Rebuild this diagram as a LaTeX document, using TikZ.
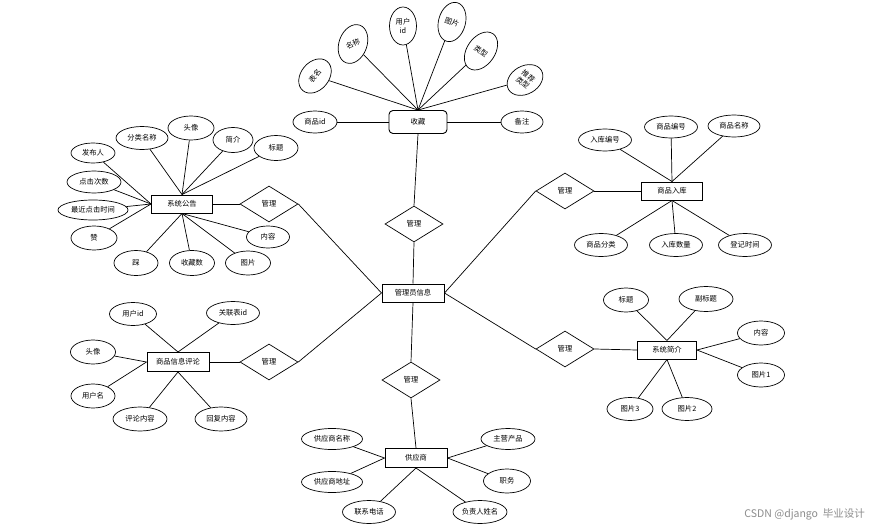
\documentclass[tikz,border=0pt]{standalone}
\usepackage{fontspec}
\newfontfamily\cjk{Noto Sans CJK SC}
\usetikzlibrary{shapes.geometric}
\tikzset{
  base/.style={font=\cjk\fontsize{7.3}{8.2}\selectfont, inner sep=0pt, align=center},
  ent/.style={base, draw, rectangle, line width=1pt, minimum width=61pt, minimum height=18pt},
  entr/.style={base, draw, rectangle, rounded corners=4pt, line width=0.9pt, minimum width=58pt, minimum height=23pt},
  attr/.style={base, draw, ellipse, line width=0.7pt, minimum width=45pt, minimum height=23pt},
  rel/.style={base, draw, diamond, line width=0.7pt, minimum width=58pt, minimum height=36pt},
  conn/.style={line width=0.7pt},
}
\begin{document}
\begin{tikzpicture}[x=1pt,y=-1pt]
\useasboundingbox (0,0) rectangle (871,530);
\fill[white] (0,0) rectangle (871,530);

% ---------- top: 收藏 ----------
\node[entr] (sc) at (418,122) {收藏};
\node[attr, minimum width=44pt, minimum height=22pt] (sc1) at (315,122) {商品id};
\node[attr, minimum width=42pt, minimum height=22pt] (sc2) at (522,122) {备注};
\node[attr, minimum width=38pt, minimum height=28pt, rotate=50] (sc3) at (315,76) {表名};
\node[attr, minimum width=40pt, minimum height=28pt, rotate=70] (sc4) at (353,44) {\rotatebox{-45}{名称}};
\node[attr, minimum width=27pt, minimum height=38pt] (sc5) at (403,26) {用户\\id};
\node[attr, minimum width=40pt, minimum height=27pt, rotate=75] (sc6) at (452,22) {\rotatebox{-95}{图片}};
\node[attr, minimum width=42pt, minimum height=28pt, rotate=55] (sc7) at (481,51) {\rotatebox{-90}{类型}};
\node[attr, minimum width=38pt, minimum height=28pt, rotate=30] (sc8) at (525,80) {\rotatebox{-70}{\begin{tabular}{@{}c@{}}推荐\\类型\end{tabular}}};
\draw[conn] (sc1) -- (sc.west);
\draw[conn] (sc2) -- (sc.east);
\foreach \a in {sc3,sc4,sc5,sc6,sc7,sc8} \draw[conn] (\a) -- (sc.north);

% ---------- center ----------
\node[ent, minimum width=62pt] (ad) at (413,293) {管理员信息};
\node[rel] (d1) at (414,224) {管理};
\node[rel] (d2) at (269,204) {管理};
\node[rel] (d3) at (269,362) {管理};
\node[rel] (d4) at (565,191) {管理};
\node[rel] (d5) at (565,349) {管理};
\node[rel] (d6) at (411,380) {管理};
\draw[conn] (sc.south) -- (d1.north);
\draw[conn] (d1.south) -- (ad.north);
\draw[conn] (d2.east) -- (ad.west);
\draw[conn] (d3.east) -- (ad.west);
\draw[conn] (ad.east) -- (d4.west);
\draw[conn] (ad.east) -- (d5.west);
\draw[conn] (ad.south) -- (d6.north);

% ---------- 系统公告 ----------
\node[ent] (gg) at (182,204) {系统公告};
\draw[conn] (gg.east) -- (d2.west);
\node[attr, minimum width=52pt] (g1) at (142,138) {分类名称};
\node[attr, minimum width=46pt, minimum height=24pt] (g2) at (191,128) {头像};
\node[attr, minimum width=40pt, minimum height=25pt] (g3) at (233,140) {简介};
\node[attr, minimum width=44pt, minimum height=25pt] (g4) at (276,148) {标题};
\node[attr, minimum width=44pt, minimum height=20pt] (g5) at (93,153) {发布人};
\node[attr, minimum width=54pt, minimum height=22pt] (g6) at (94,182) {点击次数};
\node[attr, minimum width=70pt, minimum height=20pt] (g7) at (93,210) {最近点击时间};
\node[attr, minimum width=46pt, minimum height=24pt] (g8) at (94,238) {赞};
\node[attr, minimum width=44pt, minimum height=25pt] (g9) at (136,263) {踩};
\node[attr, minimum width=45pt, minimum height=25pt] (g10) at (192,263) {收藏数};
\node[attr, minimum width=45pt, minimum height=24pt] (g11) at (248,263) {图片};
\node[attr, minimum width=43pt, minimum height=22pt] (g12) at (268,237) {内容};
\foreach \a in {g1,g2,g3,g4} \draw[conn] (\a) -- (gg.north);
\foreach \a in {g5,g6,g7,g8} \draw[conn] (\a) -- (gg.west);
\foreach \a in {g9,g10,g11,g12} \draw[conn] (\a) -- (gg.south);

% ---------- 商品入库 ----------
\node[ent] (rk) at (672,191) {商品入库};
\draw[conn] (d4.east) -- (rk.west);
\node[attr, minimum width=53pt, minimum height=22pt] (r1) at (605,140) {入库编号};
\node[attr, minimum width=53pt, minimum height=22pt] (r2) at (671,127) {商品编号};
\node[attr, minimum width=52pt, minimum height=22pt] (r3) at (734,126) {商品名称};
\node[attr, minimum width=53pt, minimum height=23pt] (r4) at (601,245) {商品分类};
\node[attr, minimum width=53pt, minimum height=23pt] (r5) at (676,245) {入库数量};
\node[attr, minimum width=53pt, minimum height=23pt] (r6) at (745,245) {登记时间};
\foreach \a in {r1,r2,r3} \draw[conn] (\a) -- (rk.north);
\foreach \a in {r4,r5,r6} \draw[conn] (\a) -- (rk.south);

% ---------- 商品信息评论 ----------
\node[ent, minimum width=62pt, minimum height=19pt] (pl) at (178,362) {商品信息评论};
\draw[conn] (pl.east) -- (d3.west);
\node[attr, minimum width=47pt] (p1) at (133,314) {用户id};
\node[attr, minimum width=53pt] (p2) at (233,313) {关联表id};
\node[attr, minimum width=45pt, minimum height=24pt] (p3) at (93,352) {头像};
\node[attr, minimum width=44pt, minimum height=24pt] (p4) at (93,396) {用户名};
\node[attr, minimum width=54pt, minimum height=24pt] (p5) at (140,419) {评论内容};
\node[attr, minimum width=52pt, minimum height=24pt] (p6) at (221,419) {回复内容};
\foreach \a in {p1,p2} \draw[conn] (\a) -- (pl.north);
\foreach \a in {p3,p4} \draw[conn] (\a) -- (pl.west);
\foreach \a in {p5,p6} \draw[conn] (\a) -- (pl.south);

% ---------- 系统简介 ----------
\node[ent, minimum width=59pt] (jj) at (667,350) {系统简介};
\draw[conn] (d5.east) -- (jj.west);
\node[attr, minimum width=45pt, minimum height=24pt] (j1) at (626,300) {标题};
\node[attr, minimum width=54pt, minimum height=25pt] (j2) at (706,299) {副标题};
\node[attr, minimum width=47pt, minimum height=24pt] (j3) at (761,333) {内容};
\node[attr, minimum width=47pt, minimum height=24pt] (j4) at (761,375) {图片1};
\node[attr, minimum width=46pt, minimum height=23pt] (j5) at (630,409) {图片3};
\node[attr, minimum width=50pt, minimum height=23pt] (j6) at (687,409) {图片2};
\foreach \a in {j1,j2} \draw[conn] (\a) -- (jj.north);
\foreach \a in {j3,j4} \draw[conn] (\a) -- (jj.east);
\foreach \a in {j5,j6} \draw[conn] (\a) -- (jj.south);

% ---------- 供应商 ----------
\node[ent, minimum width=62pt, minimum height=19pt] (gy) at (416,458) {供应商};
\draw[conn] (d6.south) -- (gy.north);
\node[attr, minimum width=61pt, minimum height=21pt] (y1) at (332,439) {供应商名称};
\node[attr, minimum width=61pt, minimum height=21pt] (y2) at (332,482) {供应商地址};
\node[attr, minimum width=53pt, minimum height=23pt] (y3) at (369,512) {联系电话};
\node[attr, minimum width=54pt, minimum height=21pt] (y4) at (508,439) {主营产品};
\node[attr, minimum width=47pt, minimum height=24pt] (y5) at (507,481) {职务};
\node[attr, minimum width=54pt, minimum height=23pt] (y6) at (480,512) {负责人姓名};
\foreach \a in {y1,y2} \draw[conn] (\a) -- (gy.west);
\foreach \a in {y3,y6} \draw[conn] (\a) -- (gy.south);
\foreach \a in {y4,y5} \draw[conn] (\a) -- (gy.east);

% watermark
\node[font=\cjk\fontsize{10.5}{12}\selectfont, text=black!45, anchor=east, inner sep=0pt] (wm) at (865,514) {CSDN @django\ \ 毕业设计};
\end{tikzpicture}
\end{document}
